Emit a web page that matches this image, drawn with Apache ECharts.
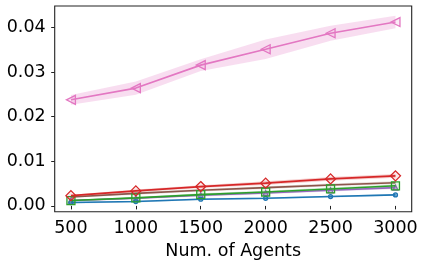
<!DOCTYPE html>
<html><head><meta charset="utf-8">
<script src="https://cdn.jsdelivr.net/npm/echarts@6/dist/echarts.min.js"></script>
<style>html,body{margin:0;padding:0;background:#fff}#c{width:424px;height:267px}</style>
</head><body><div id="c"></div>
<script>
const agents = [500, 1000, 1500, 2000, 2500, 3000];
const xTicks = [500, 1000, 1500, 2000, 2500, 3000];
const yTicks = [0, 0.01, 0.02, 0.03, 0.04];

const blueMean   = [0.00075, 0.00097, 0.0015, 0.0017, 0.0021, 0.00247];
const blueStd    = [0.0002, 0.0002, 0.0002, 0.0002, 0.0002, 0.0002];
const greenMean  = [0.0012, 0.0018, 0.00253, 0.0031, 0.0038, 0.0045];
const greenStd   = [0.0002, 0.0002, 0.0003, 0.0003, 0.0003, 0.0003];
const purpleMean = [0.0012, 0.0017, 0.0024, 0.0029, 0.0035, 0.0041];
const purpleStd  = [0.0002, 0.0002, 0.0003, 0.0003, 0.0003, 0.0003];
const brownMean  = [0.0020, 0.0028, 0.0035, 0.0041, 0.0047, 0.0052];
const brownStd   = [0.0002, 0.0003, 0.0003, 0.0003, 0.0003, 0.0003];
const redMean    = [0.0023, 0.00336, 0.00433, 0.0051, 0.00605, 0.00673];
const redStd     = [0.0002, 0.0003, 0.0003, 0.0004, 0.0004, 0.0004];
const pinkMean   = [0.02377, 0.0264, 0.03155, 0.0351, 0.0387, 0.0412];
const pinkStd    = [0.0011, 0.0015, 0.0013, 0.0022, 0.0017, 0.0014];

const FONT = 'DejaVu Sans';
const seriesDefs = [
  {name:'brown', color:'#8c564b', mean:brownMean, std:brownStd, symbol:'none', size:0},
  {name:'purple', color:'#9467bd', mean:purpleMean, std:purpleStd, symbol:'triangle', size:5, fill:'rgba(148,103,189,0.3)'},
  {name:'blue', color:'#1f77b4', mean:blueMean, std:blueStd, symbol:'circle', size:4, fill:'rgba(31,119,180,0.5)'},
  {name:'green', color:'#2ca02c', mean:greenMean, std:greenStd, symbol:'rect', size:8, fill:'rgba(44,160,44,0.1)'},
  {name:'red', color:'#d62728', mean:redMean, std:redStd, symbol:'diamond', size:10, fill:'rgba(214,39,40,0.1)'},
  {name:'pink', color:'#e377c2', mean:pinkMean, std:pinkStd, symbol:'triangle', size:9, rotate:90, fill:'rgba(227,119,194,0.15)'}
];

function hexA(hex, a){
  const r=parseInt(hex.slice(1,3),16), g=parseInt(hex.slice(3,5),16), b=parseInt(hex.slice(5,7),16);
  return `rgba(${r},${g},${b},${a})`;
}

const series = [];
seriesDefs.forEach(d => {
  series.push({
    type:'custom', silent:true, z:1,
    data:[0],
    renderItem:(params, api) => {
      const pts = [];
      for (let i=0;i<agents.length;i++) pts.push(api.coord([agents[i], d.mean[i]+d.std[i]]));
      for (let i=agents.length-1;i>=0;i--) pts.push(api.coord([agents[i], d.mean[i]-d.std[i]]));
      return {type:'polygon', shape:{points:pts}, style:{fill:hexA(d.color, d.name==='pink'?0.25:0.22)}};
    }
  });
});
seriesDefs.forEach((d, k) => {
  series.push({
    type:'line', name:d.name, z:3+k,
    data: agents.map((a,i)=>[a, d.mean[i]]),
    symbol:d.symbol, symbolSize:d.size, symbolRotate:d.rotate||0,
    showSymbol: d.symbol!=='none',
    lineStyle:{color:d.color, width:1.6},
    itemStyle:{color:d.fill||'transparent', borderColor:d.color, borderWidth:1.3},
    emphasis:{disabled:true}, animation:false
  });
});

const chart = echarts.init(document.getElementById('c'), null, {renderer:'canvas'});
chart.setOption({
  animation:false,
  grid:{left:54.7, right:12.3, top:6, bottom:55.3, show:true, borderColor:'#222', borderWidth:1.1, backgroundColor:'transparent'},
  xAxis:{
    type:'value', min:375, max:3125, interval:125,
    name:'Num. of Agents', nameLocation:'middle', nameGap:29,
    nameTextStyle:{fontFamily:FONT, fontSize:17.5, color:'#000', verticalAlign:'top'},
    axisLine:{show:false},
    axisTick:{show:true, length:3.5, inside:false, lineStyle:{color:'#222', width:1}, customValues:xTicks},
    axisLabel:{fontFamily:FONT, fontSize:17.5, color:'#000', margin:8, customValues:xTicks, formatter:v=>String(v)},
    splitLine:{show:false}
  },
  yAxis:{
    type:'value', min:-0.0013, max:0.0448,
    axisLine:{show:false},
    axisTick:{show:true, length:3.5, lineStyle:{color:'#222', width:1}, customValues:yTicks},
    axisLabel:{fontFamily:FONT, fontSize:17.5, color:'#000', margin:9, customValues:yTicks, formatter:v=>v.toFixed(2)},
    splitLine:{show:false}
  },
  series:series
});
</script></body></html>
